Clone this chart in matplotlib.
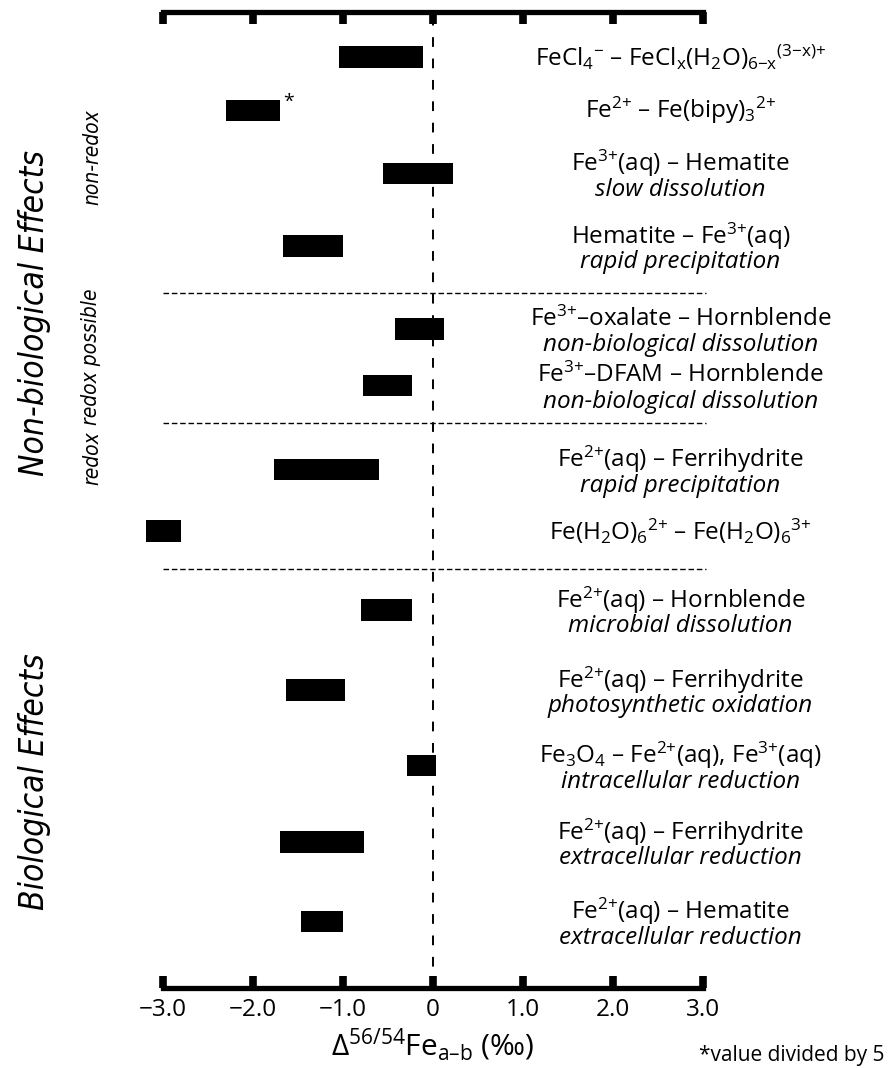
"""
Iron isotope fractionation between species (Delta 56/54 Fe), grouped by
non-biological and biological effects.
"""

import matplotlib as mpl
mpl.use('Agg')

import numpy as np
import matplotlib.pyplot as plt

plt.rcParams['font.family'] = ['Open Sans', 'DejaVu Sans']
plt.rcParams['mathtext.fontset'] = 'custom'
plt.rcParams['mathtext.rm'] = 'Open Sans'
plt.rcParams['mathtext.it'] = 'Open Sans:italic'
plt.rcParams['mathtext.bf'] = 'Open Sans:bold'
plt.rcParams['mathtext.default'] = 'rm'

# Data: fractionation range (permil) for each pair, top to bottom.
pairs = [
    r'FeCl$_4{}^{{-}}$ – FeCl$_x$(H$_2$O)$_{6{-}x}{}^{(3{-}x){+}}$',
    r'Fe$^{2{+}}$ – Fe(bipy)$_3{}^{2{+}}$',
    r'Fe$^{3{+}}$(aq) – Hematite',
    r'Hematite – Fe$^{3{+}}$(aq)',
    r'Fe$^{3{+}}$–oxalate – Hornblende',
    r'Fe$^{3{+}}$–DFAM – Hornblende',
    r'Fe$^{2{+}}$(aq) – Ferrihydrite',
    r'Fe(H$_2$O)$_6{}^{2{+}}$ – Fe(H$_2$O)$_6{}^{3{+}}$',
    r'Fe$^{2{+}}$(aq) – Hornblende',
    r'Fe$^{2{+}}$(aq) – Ferrihydrite',
    r'Fe$_3$O$_4$ – Fe$^{2{+}}$(aq), Fe$^{3{+}}$(aq)',
    r'Fe$^{2{+}}$(aq) – Ferrihydrite',
    r'Fe$^{2{+}}$(aq) – Hematite',
]
notes = [
    '', '', 'slow dissolution', 'rapid precipitation',
    'non-biological dissolution', 'non-biological dissolution',
    'rapid precipitation', '', 'microbial dissolution',
    'photosynthetic oxidation', 'intracellular reduction',
    'extracellular reduction', 'extracellular reduction',
]
lo = [-1.04, -2.30, -0.56, -1.67, -0.42, -0.78, -1.77, -3.19, -0.80, -1.63, -0.29, -1.70, -1.47]
hi = [-0.11, -1.70, 0.22, -1.00, 0.12, -0.23, -0.60, -2.80, -0.23, -0.98, 0.03, -0.77, -1.00]
starred = [1]  # value divided by 5

ticks = [-3, -2, -1, 0, 1, 2, 3]
tick_labels = ['\u22123.0', '\u22122.0', '\u22121.0', '0', '1.0', '2.0', '3.0']

# Layout (vertical positions in pixel-like units, top = 0)
row_y = [57, 110.5, 173.5, 246, 329, 385.5, 469.5, 531, 610, 690, 765.5, 842, 921.5]
sep_y = [293, 423, 569]

lo = np.array(lo)
hi = np.array(hi)

fig = plt.figure(figsize=(8.9, 10.68), dpi=100)
ax = fig.add_axes([163 / 890, 1 - 988 / 1068, 540 / 890, 976.5 / 1068])
ax.set_xlim(-3, 3)
ax.set_ylim(988, 11.5)

ax.barh(row_y, hi - lo, left=lo, height=21.5, color='black', zorder=3, clip_on=False)
ax.axvline(0, color='black', lw=1.4, ls=(0, (5, 6)), zorder=1)
for y in sep_y:
    ax.plot([-3.0, 3.03], [y, y], color='black', lw=1.0, ls=(0, (4, 2)), clip_on=False)

for i in starred:
    ax.text(hi[i] + 0.03, row_y[i] - 9, '*', ha='left', va='center', fontsize=14)

xt = 2.75
for y, p, n in zip(row_y, pairs, notes):
    if n:
        ax.text(xt, y - 10, p, ha='center', va='center', fontsize=17.5)
        ax.text(xt, y + 16, n, ha='center', va='center', fontsize=17.5, style='italic')
    else:
        ax.text(xt, y, p, ha='center', va='center', fontsize=17.5)

# group labels on the left
narrow = dict(family='DejaVu Sans', stretch='condensed', style='italic', rotation=90,
              ha='center', va='center')
ax.text(-4.43, 313, 'Non-biological Effects', fontsize=24, **narrow)
ax.text(-4.43, 782, 'Biological Effects', fontsize=24, **narrow)
ax.text(-3.79, 157, 'non-redox', fontsize=15, **narrow)
ax.text(-3.80, 357, 'redox possible', fontsize=15, **narrow)
ax.text(-3.79, 458, 'redox', fontsize=15, **narrow)

for side in ['left', 'right']:
    ax.spines[side].set_visible(False)
for side in ['top', 'bottom']:
    ax.spines[side].set_linewidth(3.8)
ax.set_yticks([])
ax.set_xticks(ticks)
ax.set_xticklabels(tick_labels)
ax.tick_params(axis='x', direction='in', length=8.5, width=5.5, top=True, bottom=True,
               labeltop=False, labelsize=17.5, pad=7)

ax.set_xlabel(r'$\Delta^{56/54}$Fe$_{a–b}$ (‰)', fontsize=21.5, labelpad=4)
fig.text(792 / 890, 1 - 1055 / 1068, '*value divided by 5', ha='center', va='center', fontsize=15)

fig.savefig('out.png', dpi=100)
